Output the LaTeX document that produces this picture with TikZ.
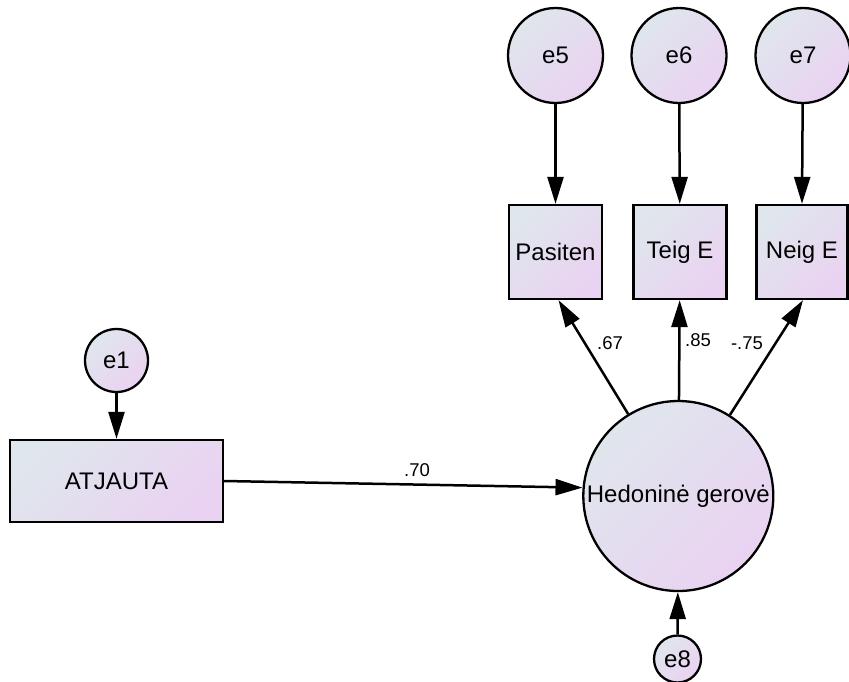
\documentclass[tikz,border=0pt]{standalone}
\usepackage{fontspec}
\setmainfont{Liberation Sans}
\usetikzlibrary{arrows.meta}

\definecolor{shadeA}{HTML}{DFE6EC}
\definecolor{shadeB}{HTML}{EAD2F2}

\tikzset{
  filled/.style={draw=black, line width=2.3pt, top color=shadeA, bottom color=shadeB, shading angle=45,
                 inner sep=0pt, font=\fontsize{24}{28}\selectfont},
  latent/.style={filled, circle},
  observed/.style={filled, rectangle},
  path/.style={line width=2.5pt, -{Triangle[length=27pt,width=16pt]}},
  coef/.style={font=\fontsize{18.5}{22}\selectfont, inner sep=0pt}
}

\begin{document}
\begin{tikzpicture}[x=1pt, y=-1pt]
  \useasboundingbox (0,0) rectangle (849,681);

  % error terms of the indicators
  \node[latent, minimum size=95pt] (e5) at (555.5,55.5) {e5};
  \node[latent, minimum size=95pt] (e6) at (679,55.5) {e6};
  \node[latent, minimum size=95pt] (e7) at (803,55.5) {e7};

  % indicators
  \node[observed, minimum width=93pt, minimum height=94pt] (P) at (555.5,252) {Pasiten};
  \node[observed, minimum width=93pt, minimum height=94pt] (T) at (680,252) {Teig E};
  \node[observed, minimum width=91pt, minimum height=94pt] (N) at (802,252) {Neig E};

  % predictor with its error
  \node[latent, minimum size=63pt] (e1) at (116.5,360.5) {e1};
  \node[observed, minimum width=213pt, minimum height=82pt] (A) at (116.5,481) {ATJAUTA};

  % latent outcome with its disturbance
  \node[latent, minimum size=190pt] (H) at (678.3,496) {Hedoninė gerovė};
  \node[latent, minimum size=47pt] (e8) at (677.5,659) {e8};

  % paths
  \draw[path] (e5) -- (P);
  \draw[path] (e6) -- (T);
  \draw[path] (e7) -- (N.north);
  \draw[path] (e1) -- (A);
  \draw[path] (e8) -- (H);
  \draw[path] (A.east) -- (H.175);
  \draw[path] (H) -- ([xshift=3pt]P.south);
  \draw[path] (H) -- (T);
  \draw[path] (H) -- ([xshift=1pt]N.south);

  % standardized coefficients
  \node[coef] (c67) at (610,343) {.67};
  \node[coef] (c85) at (698,340) {.85};
  \node[coef] (c75) at (747,343) {-.75};
  \node[coef] (c70) at (417,470) {.70};
\end{tikzpicture}
\end{document}
